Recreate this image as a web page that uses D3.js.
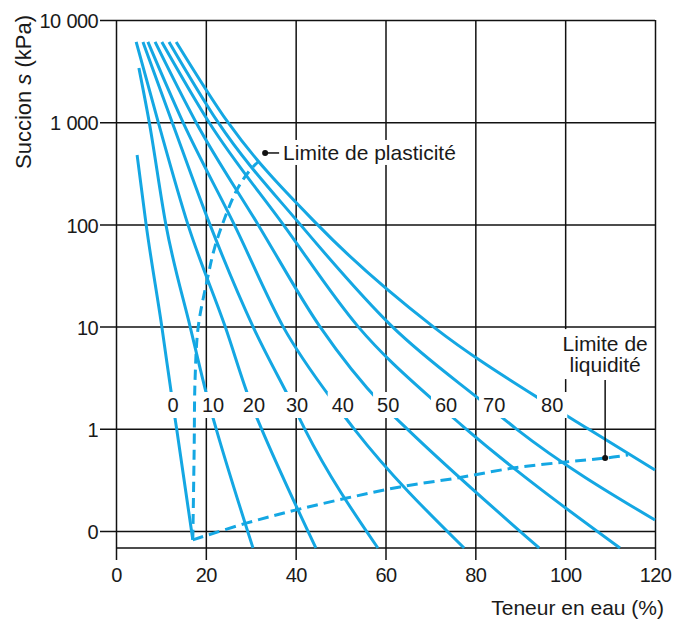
<!DOCTYPE html>
<html><head><meta charset="utf-8">
<script src="https://cdn.jsdelivr.net/npm/d3@7"></script>
<style>body{margin:0;background:#fff}</style>
</head><body>
<svg id="c" width="683" height="621"></svg>
<script>
// ---------- data ----------
const xTicks = [0, 20, 40, 60, 80, 100, 120];
const yTicks = [0.1, 1, 10, 100, 1000, 10000];
const yTickLabels = ["0", "1", "10", "100", "1 000", "10 000"];
const curveNames = ["0", "10", "20", "30", "40", "50", "60", "70", "80"];
// each curve: [teneur en eau %, succion kPa]
const curve0  = [[4.7,477],[6.7,100],[10.2,10],[12.7,1.7],[13.5,1.0],[17.1,0.082]];
const curve10 = [[5.1,3390],[7.4,1000],[11.1,100],[16.5,10],[20.8,1.7],[22.3,1.0],[30.5,0.0682]];
const curve20 = [[4.5,6100],[9.4,1000],[16.0,100],[24.3,10],[30.2,1.7],[32.4,1.0],[44.5,0.0682]];
const curve30 = [[6.0,6100],[12.5,1000],[20.9,100],[30.5,10],[39.4,1.7],[42.0,1.0],[58.3,0.0682]];
const curve40 = [[7.1,6100],[14.9,1000],[26.3,100],[37.2,10],[49.0,1.7],[53.0,1.0],[77.5,0.0682]];
const curve50 = [[8.7,6100],[17.8,1000],[31.6,100],[45.4,10],[59.4,1.7],[64.8,1.0],[94.2,0.0682]];
const curve60 = [[10.2,6100],[20.7,1000],[37.2,100],[53.9,10],[71.9,1.7],[77.9,1.0],[112.2,0.0682]];
const curve70 = [[11.8,6100],[22.7,1000],[41.0,100],[61.5,10],[82.6,1.7],[89.1,1.0],[120,0.128]];
const curve80 = [[13.4,6100],[24.9,1000],[44.8,100],[70.6,10],[96.6,1.7],[105.1,1.0],[120,0.395]];
const curves = [curve0, curve10, curve20, curve30, curve40, curve50, curve60, curve70, curve80];
// curve label anchor (teneur en eau) and suction of label baseline
const labelW = [12.7, 21.6, 30.7, 40.3, 50.5, 60.6, 73.5, 84.2, 97.1];
const labelS = 1.46;
const plasticLimit = [[17.1,0.082],[17.4,0.62],[17.6,3.0],[18.3,9.9],[20.3,28.6],[22.0,60],[24.3,118],[26.9,217],[29.6,330],[31.6,408]];
const liquidLimit  = [[17.1,0.082],[29.2,0.120],[39.9,0.160],[51.4,0.210],[63.2,0.270],[75.9,0.330],[88.4,0.413],[100.0,0.473],[108.9,0.517],[114.0,0.554]];
const plasticDot = [33.2, 500];
const liquidDot = [108.9, 0.517];

// ---------- chart ----------
const svg = d3.select("#c");
const FONT = "'Liberation Sans', Arial, Helvetica, sans-serif";
const BLUE = "#14a7e3";
const INK = "#1a1a1a";
const x = d3.scaleLinear().domain([0, 120]).range([116, 655]);
const y = d3.scaleLog().domain([0.0682, 10000]).range([548, 20]);

// vertical grid + bottom axis
const gx = svg.append("g").attr("transform", "translate(0,560)")
  .call(d3.axisBottom(x).tickValues(xTicks).tickSize(-(560 - y(10000))).tickPadding(8).tickFormat(d3.format("d")));
gx.select(".domain").remove();
gx.selectAll(".tick line").attr("stroke", "#111").attr("stroke-width", 1.5);
gx.selectAll("text").attr("font-size", 20).attr("font-family", FONT).attr("fill", INK).attr("letter-spacing", "-0.6px");

// horizontal grid + left axis
const gy = svg.append("g").attr("transform", "translate(100,0)")
  .call(d3.axisLeft(y).tickValues(yTicks).tickSize(-(x(120) - 100)).tickPadding(2)
    .tickFormat((d, i) => yTickLabels[i]));
gy.select(".domain").remove();
gy.selectAll(".tick line").attr("stroke", "#111").attr("stroke-width", 1.5);
gy.selectAll("text").attr("font-size", 20).attr("font-family", FONT).attr("fill", INK)
  .attr("letter-spacing", "-0.6px").attr("dy", "0.38em").attr("word-spacing", "1px");

// bottom frame line
svg.append("line").attr("x1", x(0)).attr("x2", x(120)).attr("y1", y(0.0682)).attr("y2", y(0.0682))
  .attr("stroke", "#111").attr("stroke-width", 1.5);

// curves
const line = d3.line().x(d => x(d[0])).y(d => y(d[1])).curve(d3.curveMonotoneX);
svg.append("g").selectAll("path").data(curves).join("path")
  .attr("d", line).attr("fill", "none").attr("stroke", BLUE).attr("stroke-width", 3);

// limits (dashed)
const dline = d3.line().x(d => x(d[0])).y(d => y(d[1])).curve(d3.curveCatmullRom.alpha(0.5));
svg.append("path").datum(plasticLimit).attr("d", dline).attr("fill", "none")
  .attr("stroke", BLUE).attr("stroke-width", 3).attr("stroke-dasharray", "10,6");
svg.append("path").datum(liquidLimit).attr("d", dline).attr("fill", "none")
  .attr("stroke", BLUE).attr("stroke-width", 3).attr("stroke-dasharray", "11,6");

// curve labels with white background
const lg = svg.append("g");
curveNames.forEach((name, i) => {
  const t = lg.append("text").attr("x", x(labelW[i])).attr("y", y(labelS))
    .attr("text-anchor", "middle").attr("font-size", 20).attr("font-family", FONT)
    .attr("fill", INK).text(name);
  const b = t.node().getBBox();
  lg.insert("rect", () => t.node()).attr("x", b.x - 4).attr("y", b.y - 2).attr("width", b.width + 8)
    .attr("height", b.height + 4).attr("fill", "#fff");
});

// plastic limit annotation
const px0 = x(plasticDot[0]), py0 = y(plasticDot[1]);
const pg = svg.append("g");
const pt = pg.append("text").attr("x", px0 + 18).attr("y", py0 + 7)
  .attr("font-size", 21).attr("font-family", FONT).attr("fill", INK).text("Limite de plasticité");
const pb = pt.node().getBBox();
pg.insert("rect", () => pt.node()).attr("x", pb.x - 2).attr("y", pb.y - 1)
  .attr("width", pb.width + 4).attr("height", pb.height + 2).attr("fill", "#fff");
pg.append("line").attr("x1", px0).attr("x2", px0 + 14).attr("y1", py0).attr("y2", py0)
  .attr("stroke", "#111").attr("stroke-width", 1.5);
pg.append("circle").attr("cx", px0).attr("cy", py0).attr("r", 3).attr("fill", "#111");

// liquid limit annotation
const lx0 = x(liquidDot[0]), ly0 = y(liquidDot[1]);
svg.append("rect").attr("x", lx0 - 46).attr("y", ly0 - 129).attr("width", 92).attr("height", 50).attr("fill", "#fff");
const lt = svg.append("text").attr("font-size", 21).attr("font-family", FONT).attr("fill", INK)
  .attr("text-anchor", "middle");
lt.append("tspan").attr("x", lx0).attr("y", ly0 - 107).text("Limite de");
lt.append("tspan").attr("x", lx0).attr("y", ly0 - 86).text("liquidité");
svg.append("line").attr("x1", lx0).attr("x2", lx0).attr("y1", ly0).attr("y2", ly0 - 78)
  .attr("stroke", "#111").attr("stroke-width", 1.5);
svg.append("circle").attr("cx", lx0).attr("cy", ly0).attr("r", 3).attr("fill", "#111");

// axis titles
const yt = svg.append("text").attr("transform", "translate(31,92) rotate(-90)")
  .attr("text-anchor", "middle").attr("font-size", 22).attr("font-family", FONT).attr("fill", INK);
yt.append("tspan").text("Succion ");
yt.append("tspan").attr("font-style", "italic").text("s");
yt.append("tspan").text(" (kPa)");
svg.append("text").attr("x", 664).attr("y", 615).attr("text-anchor", "end")
  .attr("font-size", 21).attr("font-family", FONT).attr("fill", INK).text("Teneur en eau (%)");
</script>
</body></html>
